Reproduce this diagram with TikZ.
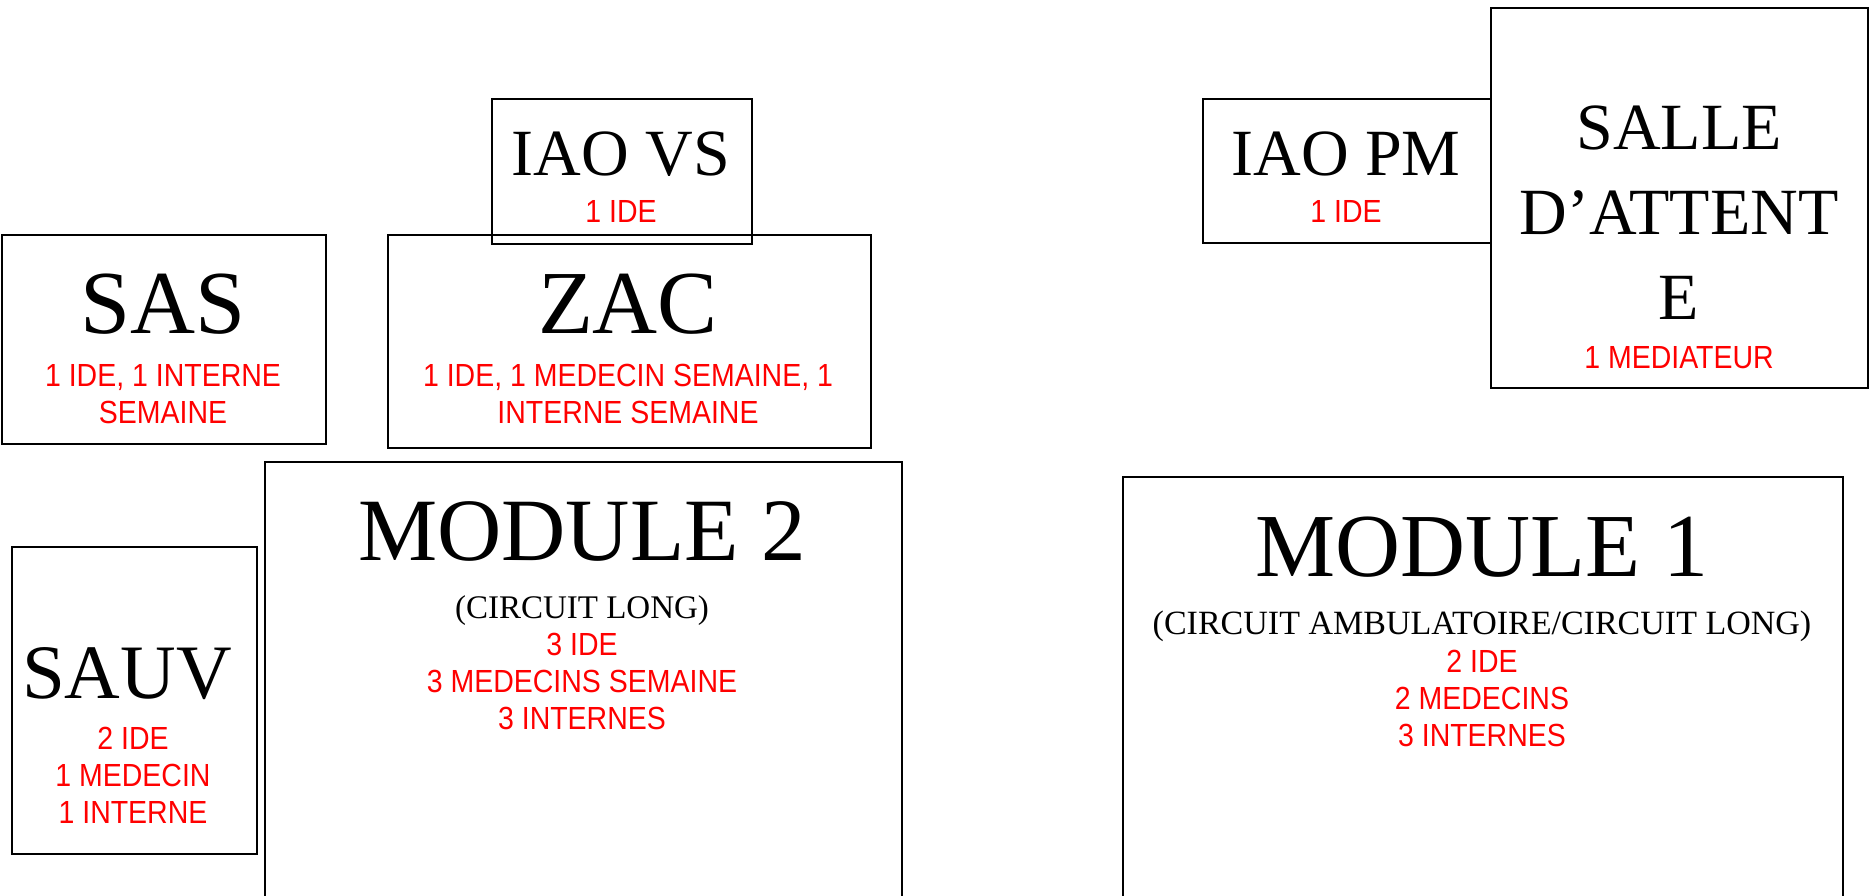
\documentclass[tikz,border=0pt]{standalone}
\usepackage{fontspec}
\setmainfont{Liberation Serif}
\newfontfamily\staffont[FakeStretch=0.89]{Liberation Sans}

\begin{document}
\begin{tikzpicture}
  [x=1pt,y=-1pt,
   room/.style={draw=black,line width=2pt,inner sep=0pt,anchor=north west},
   title/.style={anchor=base,align=center,inner sep=0pt},
   staff/.style={anchor=base,align=center,inner sep=0pt,text=red,font=\staffont\fontsize{32}{37}\selectfont}]
  \useasboundingbox (0,0) rectangle (1872,896);

  \foreach \name/\x/\y/\w/\h in {iaovs/491/98/260/145, sas/1/234/324/209, zac/387/234/483/213, mod2/264/461/637/480, sauv/11/546/245/307, iaopm/1202/98/288/144, salle/1490/7/377/380, mod1/1122/476/720/480}
    \node[room,minimum width=\w pt,minimum height=\h pt] (\name) at (\x,\y) {};

  % base of a multi-line node = its last line
  \node[title,font=\fontsize{66}{70}\selectfont] (iaovs-t) at (621,176) {IAO VS};
  \node[staff] (iaovs-s) at (621,223) {1 IDE};

  \node[title,font=\fontsize{90}{96}\selectfont] (sas-t) at (163,333) {SAS};
  \node[staff] (sas-s) at (163,423) {1 IDE, 1 INTERNE\\SEMAINE};

  \node[title,font=\fontsize{90}{96}\selectfont] (zac-t) at (628,333) {ZAC};
  \node[staff] (zac-s) at (628,423) {1 IDE, 1 MEDECIN SEMAINE, 1\\INTERNE SEMAINE};

  \node[title,font=\fontsize{89}{96}\selectfont] (mod2-t) at (582,560) {MODULE 2};
  \node[title,font=\fontsize{33}{36}\selectfont] (mod2-c) at (582,618) {(CIRCUIT LONG)};
  \node[staff] (mod2-s) at (582,729) {3 IDE\\3 MEDECINS SEMAINE\\3 INTERNES};

  \node[title,font=\fontsize{77}{80}\selectfont] (sauv-t) at (127,698) {SAUV};
  \node[staff] (sauv-s) at (133,823) {2 IDE\\1 MEDECIN\\1 INTERNE};

  \node[title,font=\fontsize{66}{70}\selectfont] (iaopm-t) at (1346,176) {IAO PM};
  \node[staff] (iaopm-s) at (1346,223) {1 IDE};

  \node[title,font=\fontsize{66}{85}\selectfont] (salle-t) at (1679,319) {SALLE\\D’ATTENT\\E};
  \node[staff] (salle-s) at (1679,368) {1 MEDIATEUR};

  \node[title,font=\fontsize{90}{96}\selectfont] (mod1-t) at (1482,576) {MODULE 1};
  \node[title,font=\fontsize{34}{36}\selectfont] (mod1-c) at (1482,634) {(CIRCUIT AMBULATOIRE/CIRCUIT LONG)};
  \node[staff] (mod1-s) at (1482,746) {2 IDE\\2 MEDECINS\\3 INTERNES};

\end{tikzpicture}
\end{document}
